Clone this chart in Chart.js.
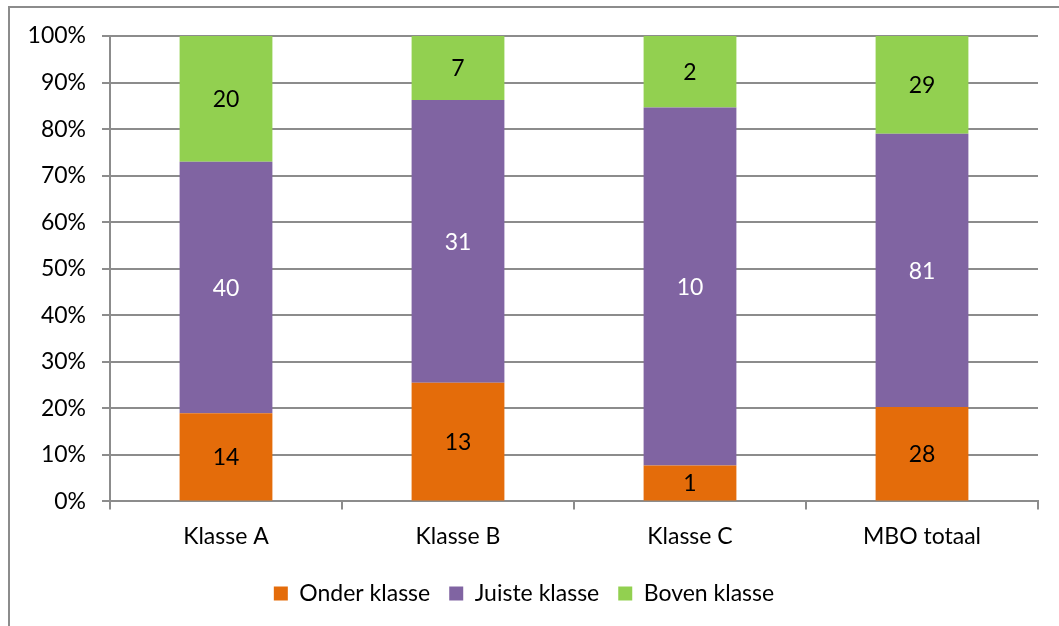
<!DOCTYPE html>
<html>
<head>
<meta charset="utf-8">
<script src="https://cdn.jsdelivr.net/npm/chart.js@4"></script>
<style>
  html, body { margin: 0; padding: 0; background: #fff; overflow: hidden; }
  #wrap { position: absolute; left: 0; top: 0; width: 1059px; height: 626px; }
  #frame { position: absolute; left: 8px; top: 6px; width: 1100px; height: 700px; border: 2px solid #8c8c8c; box-sizing: border-box; }
  canvas { position: absolute; left: 0; top: 0; }
</style>
</head>
<body>
<div id="wrap">
  <div id="frame"></div>
  <canvas id="c" width="1059" height="626"></canvas>
</div>
<script>
const categories = ["Klasse A", "Klasse B", "Klasse C", "MBO totaal"];
const onderKlasse = [14, 13, 1, 28];
const juisteKlasse = [40, 31, 10, 81];
const bovenKlasse = [20, 7, 2, 29];
const seriesNames = ["Onder klasse", "Juiste klasse", "Boven klasse"];
const yTicks = [0, 10, 20, 30, 40, 50, 60, 70, 80, 90, 100];

const counts = [onderKlasse, juisteKlasse, bovenKlasse];
const totals = categories.map((_, i) => onderKlasse[i] + juisteKlasse[i] + bovenKlasse[i]);
const pct = arr => arr.map((v, i) => v / totals[i] * 100);

const colors = ["#E46C0A", "#8064A2", "#92D050"];
const labelColors = ["#000000", "#ffffff", "#000000"];
const FONT = "Lato";
const FS = 23;

const labelPlugin = {
  id: 'segLabels',
  afterDatasetsDraw(chart) {
    const ctx = chart.ctx;
    ctx.save();
    ctx.font = FS + "px " + FONT;
    ctx.textAlign = "center";
    ctx.textBaseline = "middle";
    chart.data.datasets.forEach((ds, di) => {
      const meta = chart.getDatasetMeta(di);
      meta.data.forEach((bar, i) => {
        const y = (bar.y + bar.base) / 2;
        ctx.fillStyle = labelColors[di];
        ctx.fillText(String(counts[di][i]), bar.x, y + 1);
      });
    });
    ctx.restore();
  }
};

new Chart(document.getElementById("c"), {
  type: "bar",
  data: {
    labels: categories,
    datasets: seriesNames.map((name, di) => ({
      label: name,
      data: pct(counts[di]),
      backgroundColor: colors[di],
      borderWidth: 0,
      barPercentage: 0.8,
      categoryPercentage: 0.5
    }))
  },
  options: {
    responsive: false,
    animation: false,
    devicePixelRatio: 1,
    layout: { padding: { left: 10, right: 21, top: 36, bottom: 11 } },
    plugins: {
      legend: {
        position: "bottom",
        labels: {
          font: { family: FONT, size: FS },
          color: "#000",
          boxWidth: 14,
          boxHeight: 14,
          padding: 19
        }
      },
      tooltip: { enabled: false }
    },
    scales: {
      x: {
        stacked: true,
        grid: { display: true, drawOnChartArea: false, color: "#8c8c8c", lineWidth: 2, tickLength: 8, offset: true },
        border: { color: "#8c8c8c", width: 2 },
        ticks: { font: { family: FONT, size: FS }, color: "#000", padding: 13 }
      },
      y: {
        stacked: true,
        min: 0,
        max: 100,
        afterBuildTicks: axis => { axis.ticks = yTicks.map(v => ({ value: v })); },
        afterFit: axis => { axis.width = 100; },
        grid: { color: "#8c8c8c", lineWidth: 2, tickLength: 8 },
        border: { color: "#8c8c8c", width: 2 },
        ticks: { font: { family: FONT, size: FS }, color: "#000", padding: 16, callback: v => v + "%" }
      }
    }
  },
  plugins: [labelPlugin]
});
</script>
</body>
</html>
